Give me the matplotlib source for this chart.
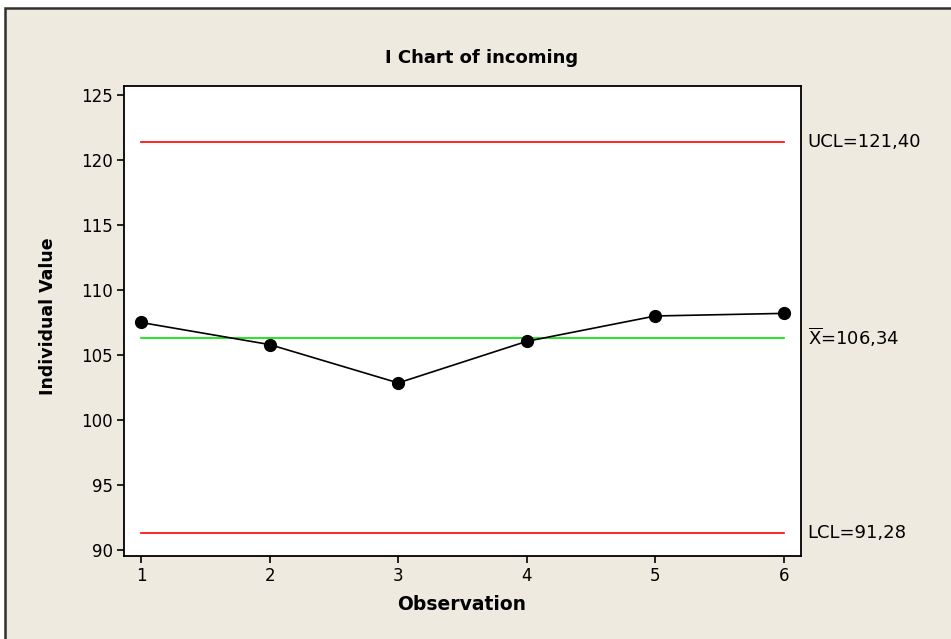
import matplotlib
matplotlib.use("Agg")
import matplotlib.pyplot as plt
from matplotlib.patches import Rectangle

# ---------------- data ----------------
observation = [1, 2, 3, 4, 5, 6]
incoming = [107.5, 105.8, 102.85, 106.05, 108.0, 108.2]
ucl = 121.40
center = 106.34
lcl = 91.28
limit_labels = ["UCL=121,40", r"$\overline{\mathrm{X}}$=106,34", "LCL=91,28"]
y_ticks = [90, 95, 100, 105, 110, 115, 120, 125]

plt.rcParams['font.family'] = ['DejaVu Sans']
plt.rcParams['mathtext.fontset'] = 'dejavusans'

W, H = 951, 639
fig = plt.figure(figsize=(W / 100, H / 100), dpi=100)
fig.patch.set_facecolor('white')

# beige panel with dark frame (Minitab style)
bg = '#eeeae0'
fig.patches.append(Rectangle((5 / W, -0.05), 1.1, 1 - 7.5 / H + 0.05,
                             transform=fig.transFigure, facecolor=bg,
                             edgecolor='#303030', linewidth=1.8, zorder=-10))

ax = fig.add_axes([124.3 / W, (H - 555.7) / H, 676.4 / W, 469.7 / H])
ax.set_zorder(1)
ax.set_facecolor('white')

# control lines
ax.plot([observation[0], observation[-1]], [ucl, ucl], color='#ff0000', lw=1.2)
ax.plot([observation[0], observation[-1]], [lcl, lcl], color='#ff0000', lw=1.2)
ax.plot([observation[0], observation[-1]], [center, center], color='#00e000', lw=1.2)

# data
ax.plot(observation, incoming, color='black', lw=1.2, marker='o',
        markersize=8.5, zorder=3)

ax.set_xlim(0.87, 6.13)
ax.set_ylim(89.56, 125.69)
ax.set_xticks(observation)
ax.set_yticks(y_ticks)
ax.tick_params(axis='both', direction='out', length=5, width=1.2,
               labelsize=12, colors='black', pad=3)
ax.tick_params(top=False, right=False)
for s in ax.spines.values():
    s.set_linewidth(1.3)
    s.set_color('black')

# limit labels to the right of the plot
for val, lab in zip([ucl, center, lcl], limit_labels):
    ax.annotate(lab, xy=(1, val), xycoords=('axes fraction', 'data'),
                xytext=(5, 0), textcoords='offset points',
                va='center', ha='left', fontsize=13)

fig.text(482 / W, 1 - 58 / H, 'I Chart of incoming', ha='center',
         va='center', fontsize=13, fontweight='bold')
fig.text(462 / W, 1 - 605 / H, 'Observation', ha='center', va='center',
         fontsize=13.5, fontweight='bold')
fig.text(48 / W, 1 - 316 / H, 'Individual Value', ha='center', va='center',
         rotation=90, fontsize=12.5, fontweight='bold')

fig.savefig('out.png', dpi=100, facecolor=fig.get_facecolor())
